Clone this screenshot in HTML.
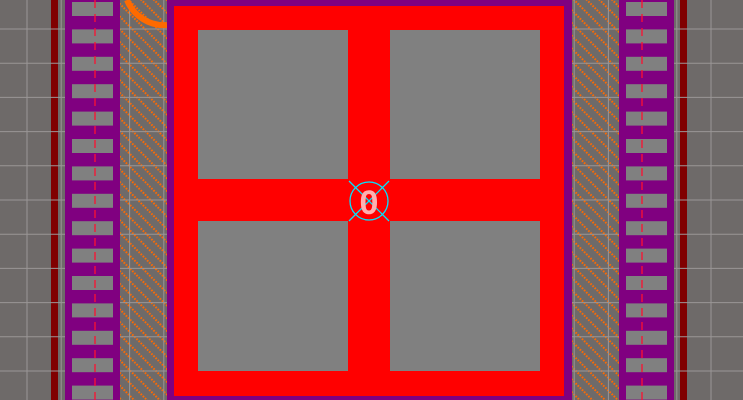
<!DOCTYPE html>
<html><head><meta charset="utf-8"><style>html,body{margin:0;padding:0;background:#6e6a69;}svg{display:block}</style></head>
<body>
<svg id="pcb" width="743" height="400" viewBox="0 0 743 400" xmlns="http://www.w3.org/2000/svg">
<defs>
<pattern id="hatch" patternUnits="userSpaceOnUse" width="9" height="9" patternTransform="rotate(-45)">
<line x1="1" y1="0" x2="1" y2="9" stroke="#ff6a00" stroke-width="2" stroke-dasharray="1.6 1.4"/>
</pattern>
</defs>
<rect width="743" height="400" fill="#6e6a69"/>
<rect x="51" y="0" width="7" height="400" fill="#800000"/>
<rect x="680" y="0" width="7" height="400" fill="#800000"/>
<rect x="120" y="0" width="47" height="400" fill="url(#hatch)"/>
<rect x="572" y="0" width="47" height="400" fill="url(#hatch)"/>
<g id="grid" stroke="#9a9696" stroke-width="1"></g>
<rect x="65" y="0" width="55" height="400" fill="#800080"/>
<rect x="619" y="0" width="55" height="400" fill="#800080"/>
<g id="pads"></g>
<line x1="95" y1="0" x2="95" y2="400" stroke="#ff1030" stroke-width="1.3" stroke-dasharray="8 6"/>
<line x1="642" y1="0" x2="642" y2="400" stroke="#ff1030" stroke-width="1.3" stroke-dasharray="8 6"/>
<path d="M127,0 A40,40 0 0 0 167,25" fill="none" stroke="#ff6a00" stroke-width="6"/>
<rect x="167" y="0" width="405" height="400" fill="#800080"/>
<rect x="174" y="6" width="390" height="390" fill="#ff0000"/>
<rect x="198" y="30" width="150" height="149" fill="#808080"/>
<rect x="390" y="30" width="150" height="149" fill="#808080"/>
<rect x="198" y="221" width="150" height="150" fill="#808080"/>
<rect x="390" y="221" width="150" height="150" fill="#808080"/>
<g>
<circle cx="369" cy="201" r="19" fill="none" stroke="#00e5ff" stroke-width="1.3"/>
<line x1="349" y1="181" x2="389" y2="221" stroke="#00e5ff" stroke-width="1.3"/>
<line x1="389" y1="181" x2="349" y2="221" stroke="#00e5ff" stroke-width="1.3"/>
<text x="369" y="214" text-anchor="middle" font-family="Liberation Sans, sans-serif" font-weight="bold" font-size="34" fill="#ffb0b0">0</text>
</g>
</svg>
<script>
const svgNS='http://www.w3.org/2000/svg';
const grid=document.getElementById('grid');
for(let i=0;i<22;i++){const x=27+i*34.2;const l=document.createElementNS(svgNS,'line');l.setAttribute('x1',x);l.setAttribute('x2',x);l.setAttribute('y1',0);l.setAttribute('y2',400);


grid.appendChild(l);}
for(let i=-1;i<12;i++){const y=29+i*34.2;const l=document.createElementNS(svgNS,'line');l.setAttribute('y1',y);l.setAttribute('y2',y);l.setAttribute('x1',0);l.setAttribute('x2',743);


grid.appendChild(l);}
const pads=document.getElementById('pads');
[72,626].forEach(x=>{for(let i=0;i<15;i++){const r=document.createElementNS(svgNS,'rect');r.setAttribute('x',x);r.setAttribute('y',2+i*27.4);r.setAttribute('width',41);r.setAttribute('height',14);r.setAttribute('fill','#808080');


pads.appendChild(r);}});
</script>
</body></html>
